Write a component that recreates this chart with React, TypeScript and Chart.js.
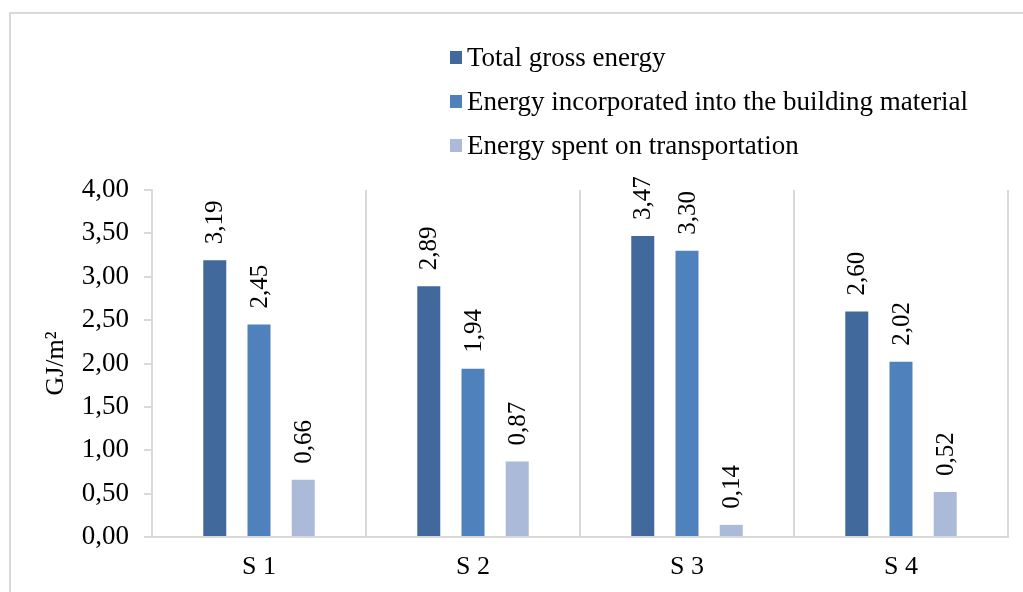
import React, { useEffect, useRef } from "react";
import { Chart, registerables } from "chart.js";

Chart.register(...registerables);

const categories = ["S 1", "S 2", "S 3", "S 4"];
const seriesNames = [
  "Total gross energy",
  "Energy incorporated into the building material",
  "Energy spent on transportation",
];
const totalGross = [3.19, 2.89, 3.47, 2.6];
const incorporated = [2.45, 1.94, 3.3, 2.02];
const transportation = [0.66, 0.87, 0.14, 0.52];
const seriesColors = ["#41699b", "#4f81bd", "#aabad8"];
const yTicks = [0, 0.5, 1, 1.5, 2, 2.5, 3, 3.5, 4];

const SERIF = '"Liberation Serif", "Times New Roman", serif';
const AXIS_GRAY = "#d9d9d9";

const fmt = (v: number) => v.toFixed(2).replace(".", ",");

// Vertical legend list drawn above the plot
const legendPlugin = {
  id: "stackedLegend",
  afterDraw(chart: any) {
    const ctx = chart.ctx;
    ctx.save();
    ctx.font = `27px ${SERIF}`;
    ctx.textBaseline = "alphabetic";
    ctx.textAlign = "left";
    chart.data.datasets.forEach((ds: any, i: number) => {
      const baseline = 66 + i * 44;
      ctx.fillStyle = ds.backgroundColor;
      ctx.fillRect(450, baseline - 15, 12, 13);
      ctx.fillStyle = "#000";
      ctx.fillText(ds.label, 467, baseline);
    });
    ctx.restore();
  },
};

// Rotated value labels above each bar
const valueLabelPlugin = {
  id: "valueLabels",
  afterDatasetsDraw(chart: any) {
    const ctx = chart.ctx;
    ctx.save();
    ctx.font = `25px ${SERIF}`;
    ctx.fillStyle = "#000";
    ctx.textAlign = "left";
    ctx.textBaseline = "middle";
    chart.data.datasets.forEach((ds: any, di: number) => {
      const meta = chart.getDatasetMeta(di);
      meta.data.forEach((bar: any, i: number) => {
        const v = ds.data[i];
        ctx.save();
        ctx.translate(bar.x + 1, bar.y - 16);
        ctx.rotate(-Math.PI / 2);
        ctx.fillText(fmt(v), 0, 0);
        ctx.restore();
      });
    });
    ctx.restore();
  },
};

export default function App() {
  const canvasRef = useRef<HTMLCanvasElement | null>(null);

  useEffect(() => {
    if (!canvasRef.current) return;
    const chart = new Chart(canvasRef.current, {
      type: "bar",
      data: {
        labels: categories,
        datasets: [totalGross, incorporated, transportation].map((d, i) => ({
          label: seriesNames[i],
          data: d,
          backgroundColor: seriesColors[i],
          borderWidth: 0,
          categoryPercentage: 0.62,
          barPercentage: 0.52,
        })),
      },
      options: {
        animation: false,
        responsive: false,
        maintainAspectRatio: false,
        layout: { padding: { top: 190, left: 0, right: 15, bottom: 0 } },
        plugins: {
          legend: { display: false },
          tooltip: { enabled: false },
          title: { display: false },
        },
        scales: {
          x: {
            grid: {
              offset: true,
              color: AXIS_GRAY,
              lineWidth: 2,
              drawTicks: false,
            },
            border: { color: AXIS_GRAY, width: 2 },
            ticks: {
              color: "#000",
              font: { family: SERIF, size: 26 },
              padding: 15,
            },
            afterFit: (scale: any) => {
              scale.height = 55;
            },
          },
          y: {
            min: 0,
            max: 4,
            afterBuildTicks: (scale: any) => {
              scale.ticks = yTicks.map((v) => ({ value: v }));
            },
            grid: {
              drawOnChartArea: false,
              color: AXIS_GRAY,
              lineWidth: 2,
              tickLength: 8,
            },
            border: { color: AXIS_GRAY, width: 2 },
            ticks: {
              color: "#000",
              font: { family: SERIF, size: 27 },
              padding: 15,
              callback: (v: any) => fmt(Number(v)),
            },
            title: {
              display: true,
              text: "GJ/m²",
              color: "#000",
              font: { family: SERIF, size: 26 },
              padding: { top: 41, bottom: 0 },
            },
            afterFit: (scale: any) => {
              scale.width = 152;
            },
          },
        },
      },
      plugins: [legendPlugin, valueLabelPlugin],
    });
    return () => chart.destroy();
  }, []);

  return (
    <div>
      <div
        style={{
          position: "fixed",
          left: 9,
          top: 12,
          right: 0,
          bottom: 0,
          borderTop: `2px solid ${AXIS_GRAY}`,
          borderLeft: `2px solid ${AXIS_GRAY}`,
        }}
      />
      <canvas
        ref={canvasRef}
        width={1023}
        height={592}
        style={{ position: "fixed", left: 0, top: 0, width: 1023, height: 592 }}
      />
    </div>
  );
}
